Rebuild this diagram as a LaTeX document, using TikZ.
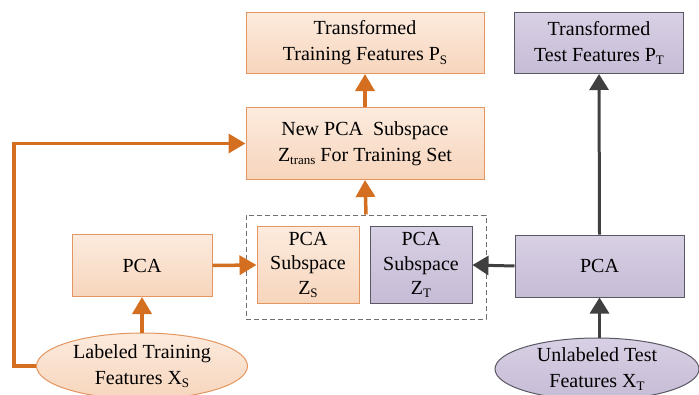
\documentclass[tikz,border=0pt]{standalone}
\usepackage{fontspec}
\setmainfont{Liberation Serif}
\usetikzlibrary{arrows.meta,shapes.geometric,calc}
\definecolor{orfillT}{RGB}{252,235,222}
\definecolor{orfillB}{RGB}{247,213,188}
\definecolor{ordraw}{RGB}{228,150,96}
\definecolor{orarrow}{RGB}{212,110,32}
\definecolor{pufillT}{RGB}{216,208,228}
\definecolor{pufillB}{RGB}{198,188,214}
\definecolor{pudraw}{RGB}{90,88,100}
\definecolor{darrow}{RGB}{64,64,64}
\definecolor{dashgray}{RGB}{110,110,110}
\newcommand\lowsub[1]{\raisebox{-0.35ex}{\fontsize{13}{13}\selectfont #1}}
\begin{document}
\begin{tikzpicture}[x=1pt,y=-1pt,
  txt/.style={font=\fontsize{20}{26}\selectfont, align=center, inner sep=0pt},
  obox/.style={txt, draw=ordraw, line width=1pt, top color=orfillT, bottom color=orfillB},
  pbox/.style={txt, draw=pudraw, line width=1pt, top color=pufillT, bottom color=pufillB},
  sbox/.style={font=\fontsize{20}{24.5}\selectfont, minimum width=102pt, minimum height=77pt},
  oell/.style={txt, ellipse, draw=ordraw, line width=1pt, top color=orfillT, bottom color=orfillB},
  pell/.style={txt, ellipse, draw=pudraw, line width=1pt, top color=pufillT, bottom color=pufillB},
  oarr/.style={draw=orarrow, line width=3.5pt, -{Triangle[width=19pt,length=17pt]}},
  darr/.style={draw=darrow, line width=3pt, -{Triangle[width=19pt,length=16pt]}},
  grpbox/.style={draw=dashgray, line width=1pt, dash pattern=on 5pt off 3pt, inner sep=0pt}
]
\useasboundingbox (0,0) rectangle (699,394);

\node[obox, minimum width=238pt, minimum height=61pt] (ttf) at (365,43)
  {Transformed\\Training Features P\lowsub{S}};
\node[obox, minimum width=238pt, minimum height=72pt] (newpca) at (365,143.5)
  {New PCA\ \ Subspace\\Z\lowsub{trans} For Training Set};
\node[grpbox, minimum width=240pt, minimum height=104pt] (grp) at (366,267) {};
\node[obox, sbox] (zs) at (308,265) {PCA\\Subspace\\Z\lowsub{S}};
\node[pbox, sbox] (zt) at (421,265) {PCA\\Subspace\\Z\lowsub{T}};
\node[obox, minimum width=140pt, minimum height=62pt] (lpca) at (142,265.5) {PCA};
\node[oell, minimum width=211pt, minimum height=66pt] (le) at (142,366)
  {Labeled Training\\Features X\lowsub{S}};

\node[pbox, minimum width=169pt, minimum height=61pt] (tsf) at (599,43)
  {Transformed\\Test Features P\lowsub{T}};
\node[pbox, minimum width=169pt, minimum height=62pt] (rpca) at (599.5,266) {PCA};
\node[pell, minimum width=204pt, minimum height=62pt] (re) at (597,369)
  {Unlabeled Test\\Features X\lowsub{T}};

\draw[oarr] (le.north) -- (lpca.south);
\draw[oarr] (lpca.east) -- (zs.west);
\draw[oarr] (grp.north) -- (newpca.south);
\draw[oarr] (newpca.north) -- (ttf.south);
\draw[oarr] (le.west) -- ++(-22,0) |- (newpca.west);

\draw[darr] (rpca.west) -- (zt.east);
\draw[darr] (rpca.south |- re.north) -- (rpca.south);
\draw[darr] (rpca.north) -- (tsf.south);
\end{tikzpicture}
\end{document}
